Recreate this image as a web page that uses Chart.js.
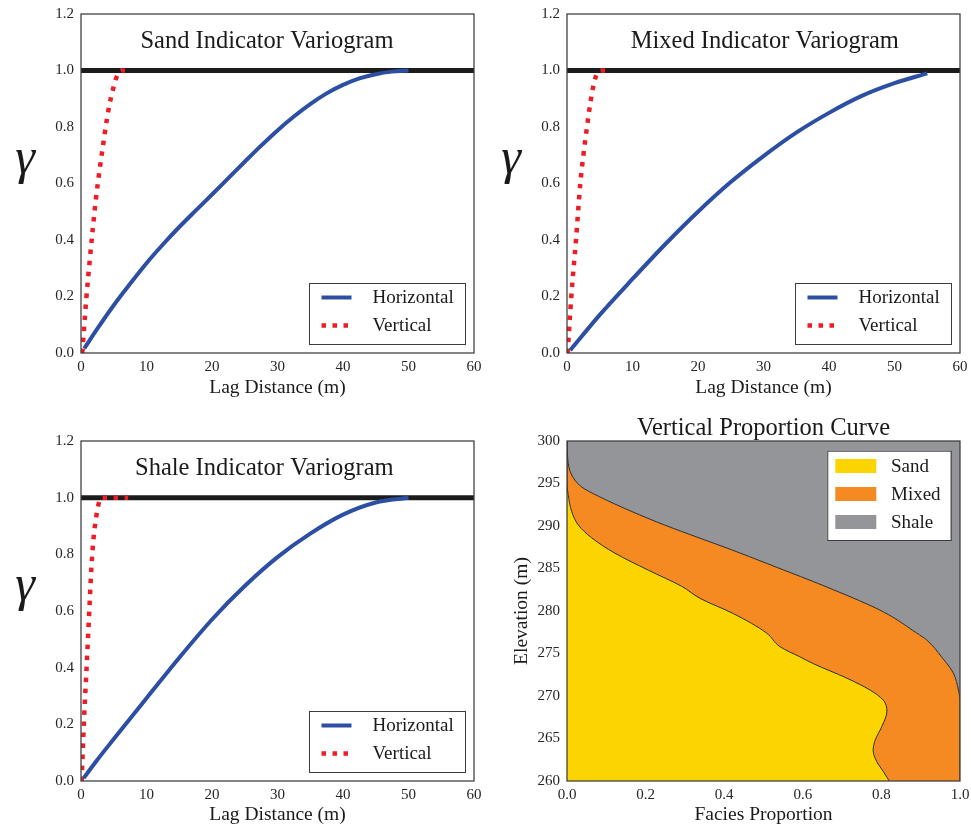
<!DOCTYPE html>
<html>
<head>
<meta charset="utf-8">
<script src="https://cdn.jsdelivr.net/npm/chart.js@4.4.0/dist/chart.umd.min.js"></script>
<style>
  html, body { margin: 0; padding: 0; background: #fff; }
  #wrap { position: relative; width: 971px; height: 829px; }
  #wrap canvas { position: absolute; }
</style>
</head>
<body>
<div id="wrap">
  <canvas id="sandChart"  width="485" height="410" style="left:0;top:0"></canvas>
  <canvas id="mixedChart" width="486" height="410" style="left:485px;top:0"></canvas>
  <canvas id="shaleChart" width="485" height="419" style="left:0;top:410px"></canvas>
  <canvas id="vpcChart"   width="486" height="419" style="left:485px;top:410px"></canvas>
</div>
<script>
// ----- variogram data: lag (m) vs gamma -----
const sandHLag  = [0.5, 2.5, 5, 7.5, 10, 12.5, 15, 17.5, 20, 22.5, 25, 27.5, 30, 32.5, 35, 37.5, 40, 42.5, 45, 47.5, 50];
const sandHGam  = [0.016, 0.086, 0.169, 0.245, 0.318, 0.384, 0.446, 0.504, 0.561, 0.619, 0.677, 0.734, 0.788, 0.837, 0.881, 0.919, 0.949, 0.972, 0.987, 0.996, 1.0];
const sandVLag  = [0.2, 0.8, 1.3, 1.8, 2.3, 2.85, 3.4, 3.9, 4.4, 4.9, 5.4, 6.2, 6.7];
const sandVGam  = [0.0, 0.19, 0.32, 0.44, 0.55, 0.65, 0.74, 0.82, 0.885, 0.935, 0.975, 1.0, 1.0];

const mixedHLag = [0.5, 5, 10, 15, 20, 25, 30, 35, 40, 45, 50, 55];
const mixedHGam = [0.01, 0.135, 0.262, 0.385, 0.5, 0.605, 0.697, 0.78, 0.85, 0.91, 0.955, 0.99];
const mixedVLag = [0.1, 0.66, 1.37, 2.03, 2.5, 3.05, 3.6, 4.07, 4.6, 5.5, 6.2];
const mixedVGam = [0.0, 0.2, 0.4, 0.6, 0.7, 0.8, 0.89, 0.95, 0.99, 1.0, 1.0];

const shaleHLag = [0.4, 2.5, 5, 10, 15, 20, 25, 30, 35, 40, 45, 50];
const shaleHGam = [0.01, 0.075, 0.148, 0.292, 0.435, 0.57, 0.688, 0.79, 0.873, 0.94, 0.983, 1.0];
const shaleVLag = [0.1, 0.46, 0.81, 1.07, 1.32, 1.58, 1.93, 2.34, 2.6, 3.1, 5, 7.2];
const shaleVGam = [0.0, 0.215, 0.38, 0.504, 0.627, 0.75, 0.86, 0.935, 0.97, 1.0, 1.0, 1.0];

const sillLag = [0, 60];
const sillGam = [1, 1];

// ----- vertical proportion curve: cumulative proportion vs elevation (m) -----
const vpcSandElev  = [260, 261.1, 262.3, 263.6, 264.8, 266.4, 268.2, 269.5, 270.7, 272.1, 273.8, 274.6, 275.8, 277.4, 279.7, 281.5, 282.9, 284.8, 286.8, 288.6, 290.1, 291.7, 293.7, 295, 300];
const vpcSand      = [0.82, 0.805, 0.788, 0.779, 0.784, 0.801, 0.814, 0.805, 0.771, 0.712, 0.627, 0.593, 0.542, 0.508, 0.423, 0.338, 0.292, 0.207, 0.122, 0.063, 0.029, 0.012, 0.003, 0, 0];
const vpcMixedElev = [260, 265, 269.5, 270.7, 272.7, 274.6, 276.6, 277.4, 279.9, 282.5, 285.6, 287.2, 288.6, 290.1, 291.7, 293.5, 294.6, 296, 297.8, 300];
const vpcSandMixed = [1, 1, 1, 0.996, 0.983, 0.953, 0.915, 0.89, 0.805, 0.678, 0.508, 0.419, 0.336, 0.249, 0.165, 0.08, 0.037, 0.012, 0.002, 0];
const vpcTotalElev = [260, 300];
const vpcTotal     = [1, 1];

const facies = ['Sand', 'Mixed', 'Shale'];
const faciesColors = ['#fcd500', '#f58a22', '#939598'];

const BLUE = '#2c4fa3';
const RED = '#ee1d25';
const INK = '#262626';

Chart.defaults.font.family = '"Liberation Serif", "Times New Roman", serif';
Chart.defaults.color = INK;

const pts = (xs, ys) => xs.map((x, i) => ({ x, y: ys[i] }));

// axes keep a fixed thickness and don't reserve room for overhanging end labels
const fixX = h => s => { s.height = h; s.paddingLeft = 0; s.paddingRight = 0; };
const fixY = w => s => { s.width = w; s.paddingTop = 0; s.paddingBottom = 0; };

// box around the plot area
const frame = {
  id: 'frame',
  afterDatasetsDraw(chart) {
    const { ctx, chartArea: a } = chart;
    ctx.save();
    ctx.strokeStyle = '#3c3c3c';
    ctx.lineWidth = 1.25;
    ctx.strokeRect(a.left, a.top, a.right - a.left, a.bottom - a.top);
    ctx.restore();
  },
};

// in-plot title, gamma label and the boxed legend
const panelText = {
  id: 'panelText',
  afterDraw(chart, args, o) {
    const { ctx, chartArea: a } = chart;
    ctx.save();
    ctx.fillStyle = '#1a1a1a';
    ctx.textAlign = 'center';
    ctx.textBaseline = 'middle';
    ctx.font = '24.5px "Liberation Serif"';
    ctx.fillText(o.title, a.left + o.titleX, a.top + o.titleY);

    if (o.gamma) {
      ctx.font = 'italic 50px "Liberation Serif"';
      ctx.textBaseline = 'alphabetic';
      ctx.fillText('γ', a.left - 56, a.top + 159);
    }

    const lg = o.legend;
    const bx = a.right - lg.right - lg.w;
    const by = lg.top != null ? a.top + lg.top : a.bottom - lg.bottom - lg.h;
    ctx.fillStyle = '#fff';
    ctx.fillRect(bx, by, lg.w, lg.h);
    ctx.strokeStyle = '#3c3c3c';
    ctx.lineWidth = 1;
    ctx.strokeRect(bx + 0.5, by + 0.5, lg.w, lg.h);
    ctx.font = '19px "Liberation Serif"';
    ctx.textAlign = 'left';
    ctx.textBaseline = 'middle';
    lg.items.forEach((it, i) => {
      const ry = by + lg.row0 + i * lg.rowGap;
      if (it.patch) {
        ctx.fillStyle = it.color;
        ctx.fillRect(bx + 8, ry - 7, 41, 14);
      } else {
        ctx.strokeStyle = it.color;
        ctx.lineWidth = it.width;
        ctx.setLineDash(it.dash || []);
        ctx.beginPath();
        ctx.moveTo(bx + 12.5, ry);
        ctx.lineTo(bx + 42.5, ry);
        ctx.stroke();
        ctx.setLineDash([]);
      }
      ctx.fillStyle = '#1a1a1a';
      ctx.fillText(it.text, bx + lg.textX, ry + 1);
    });
    ctx.restore();
  },
};

function variogram(id, title, titleX, h, v, box) {
  const hStyle = { color: BLUE, width: 4 };
  const vStyle = { color: RED, width: 4.5, dash: [4.5, 6.5] };
  return new Chart(document.getElementById(id), {
    type: 'scatter',
    data: {
      datasets: [
        { label: 'Horizontal', data: pts(h[0], h[1]), showLine: true, borderColor: BLUE, borderWidth: hStyle.width,
          pointRadius: 0, cubicInterpolationMode: 'monotone' },
        { label: 'Vertical', data: pts(v[0], v[1]), showLine: true, borderColor: RED, borderWidth: vStyle.width,
          borderDash: vStyle.dash, borderCapStyle: 'butt', pointRadius: 0, cubicInterpolationMode: 'monotone' },
        { label: 'Sill', data: pts(sillLag, sillGam), showLine: true, borderColor: '#1c1c1c', borderWidth: 5,
          pointRadius: 0 },
      ],
    },
    options: {
      responsive: false,
      animation: false,
      layout: { padding: { left: 0, top: box.top, right: box.right, bottom: 0 } },
      plugins: {
        legend: { display: false },
        tooltip: { enabled: false },
        panelText: {
          title, titleX, titleY: 28, gamma: true,
          legend: {
            right: 9, bottom: 9, w: 156, h: 61, row0: 14.5, rowGap: 28, textX: 63.5,
            items: [
              { text: 'Horizontal', color: BLUE, width: hStyle.width },
              { text: 'Vertical', color: RED, width: vStyle.width, dash: vStyle.dash },
            ],
          },
        },
      },
      scales: {
        x: {
          type: 'linear', min: 0, max: 60,
          grid: { display: false, drawTicks: false },
          border: { display: false },
          ticks: { stepSize: 10, padding: 5, autoSkip: false, font: { size: 15 }, callback: v => String(v) },
          title: { display: true, text: 'Lag Distance (m)', font: { size: 19.5 }, color: '#1a1a1a',
                   padding: { top: 0, bottom: box.titlePad } },
          afterFit: fixX(box.bottom),
        },
        y: {
          type: 'linear', min: 0, max: 1.2,
          grid: { display: false, drawTicks: false },
          border: { display: false },
          ticks: { stepSize: 0.2, padding: 7, autoSkip: false, font: { size: 15 }, callback: v => v.toFixed(1) },
          afterFit: fixY(box.left),
        },
      },
    },
    plugins: [frame, panelText],
  });
}

variogram('sandChart',  'Sand Indicator Variogram',  186,   [sandHLag, sandHGam],   [sandVLag, sandVGam],
          { left: 81, top: 14, right: 11, bottom: 57, titlePad: 10.3 });
variogram('mixedChart', 'Mixed Indicator Variogram', 197.8, [mixedHLag, mixedHGam], [mixedVLag, mixedVGam],
          { left: 82, top: 14, right: 11, bottom: 57, titlePad: 10.3 });
variogram('shaleChart', 'Shale Indicator Variogram', 183.3, [shaleHLag, shaleHGam], [shaleVLag, shaleVGam],
          { left: 81, top: 31, right: 11, bottom: 48, titlePad: 2.3 });

// vertical proportion curve: stacked facies fills against elevation
new Chart(document.getElementById('vpcChart'), {
  type: 'line',
  data: {
    datasets: [
      { label: facies[0], data: pts(vpcSand, vpcSandElev), fill: 'origin', backgroundColor: faciesColors[0],
        borderColor: '#2a2a2a', borderWidth: 1 },
      { label: facies[1], data: pts(vpcSandMixed, vpcMixedElev), fill: '-1', backgroundColor: faciesColors[1],
        borderColor: '#2a2a2a', borderWidth: 1 },
      { label: facies[2], data: pts(vpcTotal, vpcTotalElev), fill: '-1', backgroundColor: faciesColors[2],
        borderWidth: 0 },
    ],
  },
  options: {
    responsive: false,
    animation: false,
    indexAxis: 'y',
    elements: { point: { radius: 0 }, line: { cubicInterpolationMode: 'monotone' } },
    layout: { padding: { left: 0, top: 31, right: 11, bottom: 0 } },
    plugins: {
      legend: { display: false },
      tooltip: { enabled: false },
      panelText: {
        title: 'Vertical Proportion Curve', titleX: 196.5, titleY: -12.7, gamma: false,
        legend: {
          right: 9.3, top: 9.7, w: 123.4, h: 89.3, row0: 15.3, rowGap: 28, textX: 63.7,
          items: facies.map((f, i) => ({ text: f, color: faciesColors[i], patch: true })),
        },
      },
    },
    scales: {
      x: {
        type: 'linear', min: 0, max: 1, position: 'bottom',
        grid: { display: false, drawTicks: false },
        border: { display: false },
        ticks: { stepSize: 0.2, padding: 5, autoSkip: false, font: { size: 15 }, callback: v => v.toFixed(1) },
        title: { display: true, text: 'Facies Proportion', font: { size: 19.5 }, color: '#1a1a1a',
                 padding: { top: 0, bottom: 2.3 } },
        afterFit: fixX(48),
      },
      y: {
        type: 'linear', min: 260, max: 300, position: 'left',
        grid: { display: false, drawTicks: false },
        border: { display: false },
        ticks: { stepSize: 5, padding: 7, autoSkip: false, font: { size: 15 }, callback: v => String(v) },
        title: { display: true, text: 'Elevation (m)', font: { size: 19.5 }, color: '#1a1a1a',
                 padding: { top: 25, bottom: 0 } },
        afterFit: fixY(82),
      },
    },
  },
  plugins: [frame, panelText],
});
</script>
</body>
</html>
